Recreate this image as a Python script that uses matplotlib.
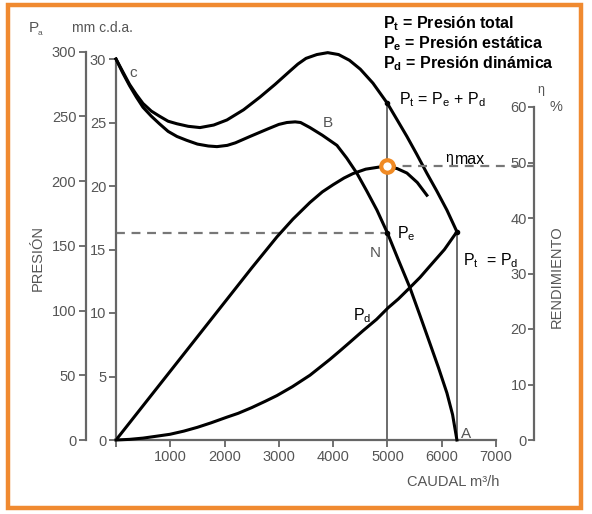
import matplotlib.pyplot as plt
from matplotlib.patches import Rectangle

plt.rcParams['font.family'] = ['Liberation Sans', 'DejaVu Sans']
plt.rcParams['mathtext.fontset'] = 'custom'
plt.rcParams['mathtext.rm'] = 'Liberation Sans'
plt.rcParams['mathtext.bf'] = 'Liberation Sans:bold'

# caudal (m3/h) vs presion (mm c.d.a.)
pt_x = [0, 125, 250, 375, 497, 650, 800, 960, 1123, 1330, 1547, 1800, 2044, 2350, 2652, 2930,
        3204, 3350, 3500, 3700, 3900, 4100, 4300, 4500, 4733, 5000, 5180, 5359, 5540, 5727, 5910, 6096, 6280]
pt_y = [30, 29.0, 28.0, 27.2, 26.5, 25.9, 25.5, 25.1, 24.9, 24.7, 24.6, 24.8, 25.2, 26.0, 27.0, 28.0,
        29.05, 29.6, 30.05, 30.35, 30.5, 30.35, 29.9, 29.2, 28.1, 26.5, 25.2, 23.9, 22.5, 21.0, 19.6, 18.1, 16.4]

pe_x = [0, 125, 250, 375, 497, 650, 800, 960, 1123, 1300, 1500, 1700, 1860, 2050, 2200, 2468,
        2800, 3000, 3149, 3300, 3400, 3573, 3800, 4070, 4250, 4438, 4620, 4807, 5000, 5200, 5414,
        5600, 5783, 5940, 6096, 6200, 6280]
pe_y = [30, 28.9, 27.9, 27.0, 26.2, 25.5, 24.9, 24.3, 23.9, 23.6, 23.3, 23.15, 23.1, 23.2, 23.4, 23.9,
        24.5, 24.85, 25.0, 25.05, 25.0, 24.6, 24.0, 23.2, 22.2, 21.0, 19.6, 18.1, 16.3, 14.2, 12.0,
        9.8, 7.6, 5.7, 3.7, 2.0, 0]

pd_x = [0, 250, 500, 750, 994, 1250, 1500, 1750, 2044, 2250, 2500, 2750, 2965, 3250, 3573, 3750,
        3941, 4120, 4309, 4549, 4800, 5010, 5200, 5414, 5600, 5783, 6050, 6280]
pd_y = [0, 0.05, 0.15, 0.3, 0.45, 0.7, 1.0, 1.35, 1.8, 2.1, 2.55, 3.05, 3.5, 4.2, 5.1, 5.7,
        6.35, 7.0, 7.7, 8.6, 9.5, 10.4, 11.1, 12.0, 12.8, 13.7, 15.0, 16.4]

# rendimiento (%)
eta_x = [0, 500, 1000, 1500, 2000, 2500, 2965, 3260, 3573, 3800, 4000, 4200,
         4365, 4600, 4862, 5000, 5180, 5359, 5550, 5727]
eta_y = [0, 6.2, 12.4, 18.6, 24.8, 31.0, 36.6, 39.8, 42.8, 44.7, 46.0, 47.2,
         48.0, 48.8, 49.2, 49.3, 48.9, 48.1, 46.4, 44.1]

q_n, pe_n, pt_n = 5000, 16.3, 26.5
q_a, pt_a = 6280, 16.4
eta_max = 49.3

x_ticks = [0, 1000, 2000, 3000, 4000, 5000, 6000, 7000]
x_labels = ['', '1000', '2000', '3000', '4000', '5000', '6000', '7000']
mm_ticks = [0, 5, 10, 15, 20, 25, 30]
pa_ticks = [0, 50, 100, 150, 200, 250, 300]
eta_ticks = [0, 10, 20, 30, 40, 50, 60]

W, H = 592, 514
gray = '#666666'
tgray = '#555555'

fig = plt.figure(figsize=(W / 100, H / 100), dpi=100)


def px(x, y):
    return x / W, 1 - y / H


ax = fig.add_axes([116 / W, 74 / H, 380 / W, 31 * 12.7 / H])
ax.set_xlim(0, 7000)
ax.set_ylim(0, 31)
for s in ['top', 'right']:
    ax.spines[s].set_visible(False)
ax.spines['left'].set_bounds(0, 30)
ax.spines['bottom'].set_bounds(0, 7000)
for s in ['left', 'bottom']:
    ax.spines[s].set_color(gray)
    ax.spines[s].set_linewidth(1.6)
ax.set_xticks(x_ticks, x_labels)
ax.set_yticks(mm_ticks)
ax.tick_params(colors=gray, labelcolor=tgray, labelsize=10.5, length=5, width=1.3, pad=2)

ax.plot(pt_x, pt_y, color='black', lw=2.2, clip_on=False, zorder=3)
ax.plot(pe_x, pe_y, color='black', lw=2.2, clip_on=False, zorder=3)
ax.plot(pd_x, pd_y, color='black', lw=2.2, clip_on=False, zorder=3)

ax.plot([q_n, q_n], [0, pt_n], color='#444444', lw=1.1, zorder=2)
ax.plot([q_a, q_a], [0, pt_a], color='#444444', lw=1.1, zorder=2)
ax.plot([0, q_n], [pe_n, pe_n], color='#777777', lw=1.6, ls=(0, (4, 3)), zorder=2)
ax.plot([q_n, q_n, q_a], [pt_n, pe_n, pt_a], 'o', color='black', ms=3, zorder=4)

# Pa axis
ax_pa = ax.twinx()
ax_pa.set_ylim(0, 31 * 9.81)
ax_pa.yaxis.tick_left()
for s in ['top', 'right', 'bottom']:
    ax_pa.spines[s].set_visible(False)
ax_pa.spines['left'].set_position(('axes', (86 - 116) / 380))
ax_pa.spines['left'].set_bounds(0, 300)
ax_pa.spines['left'].set_color(gray)
ax_pa.spines['left'].set_linewidth(1.6)
ax_pa.set_yticks(pa_ticks)
ax_pa.tick_params(colors=gray, labelcolor=tgray, labelsize=10.5, length=5, width=1.3, pad=2)

# eta axis
ax_eta = ax.twinx()
ax_eta.set_ylim(0, 31 * 12.7 / 5.55)
ax_eta.yaxis.tick_left()
for s in ['top', 'right', 'bottom']:
    ax_eta.spines[s].set_visible(False)
ax_eta.spines['left'].set_position(('axes', (534 - 116) / 380))
ax_eta.spines['left'].set_bounds(0, 60)
ax_eta.spines['left'].set_color(gray)
ax_eta.spines['left'].set_linewidth(1.6)
ax_eta.set_yticks(eta_ticks)
ax_eta.tick_params(colors=gray, labelcolor=tgray, labelsize=10.5, length=4, width=1.3, pad=1)

ax_eta.plot(eta_x, eta_y, color='black', lw=2.2, zorder=3)
ax_eta.plot([q_n, 7690], [eta_max, eta_max], color='#777777', lw=1.6, ls=(0, (4, 3)), clip_on=False)
ax_eta.plot([q_n], [eta_max], 'o', ms=9, mfc='white', mec='#F08A24', mew=3, zorder=5)

# texts
fig.text(*px(29, 32), 'P', color=tgray, fontsize=11)
fig.text(*px(38, 35), 'a', color=tgray, fontsize=6)
fig.text(*px(72, 32), 'mm c.d.a.', color=tgray, fontsize=10)
fig.text(*px(129, 77), 'c', color=tgray, fontsize=11)
fig.text(*px(323, 127), 'B', color=tgray, fontsize=11)
fig.text(*px(370, 257), 'N', color=tgray, fontsize=11)
fig.text(*px(461, 438), 'A', color=tgray, fontsize=11)
fig.text(*px(38, 258), 'PRESIÓN', color=tgray, fontsize=10.5, rotation=90, ha='center', va='center')
fig.text(*px(557, 277), 'RENDIMIENTO', color=tgray, fontsize=10.5, rotation=90, ha='center', va='center')
fig.text(*px(537, 93), 'η', color=tgray, fontsize=9)
fig.text(*px(549, 111), '%', color=tgray, fontsize=10.5)
fig.text(*px(453, 486), 'CAUDAL m³/h', color=tgray, fontsize=10.5, ha='center')

bold = dict(color='black', fontsize=11.5, fontweight='bold')
fig.text(*px(383, 28), r'P$_\mathbf{t}$ = Presión total', **bold)
fig.text(*px(383, 48), r'P$_\mathbf{e}$ = Presión estática', **bold)
fig.text(*px(383, 68), r'P$_\mathbf{d}$ = Presión dinámica', **bold)

lab = dict(color='black', fontsize=11.5)
fig.text(*px(399, 104), r'P$_\mathrm{t}$ = P$_\mathrm{e}$ + P$_\mathrm{d}$', **lab)
fig.text(*px(397, 238), r'P$_\mathrm{e}$', **lab)
fig.text(*px(463, 265), r'P$_\mathrm{t}$  = P$_\mathrm{d}$', **lab)
fig.text(*px(353, 320), r'P$_\mathrm{d}$', **lab)
fig.text(*px(445, 162), 'η', color='black', fontsize=10)
fig.text(*px(455, 164), 'max', color='black', fontsize=11.5)

fig.patches.append(Rectangle(px(8, 508), 573 / W, 503 / H, transform=fig.transFigure,
                             fill=False, edgecolor='#F08A30', lw=3.2))

fig.savefig('out.png', dpi=100)
